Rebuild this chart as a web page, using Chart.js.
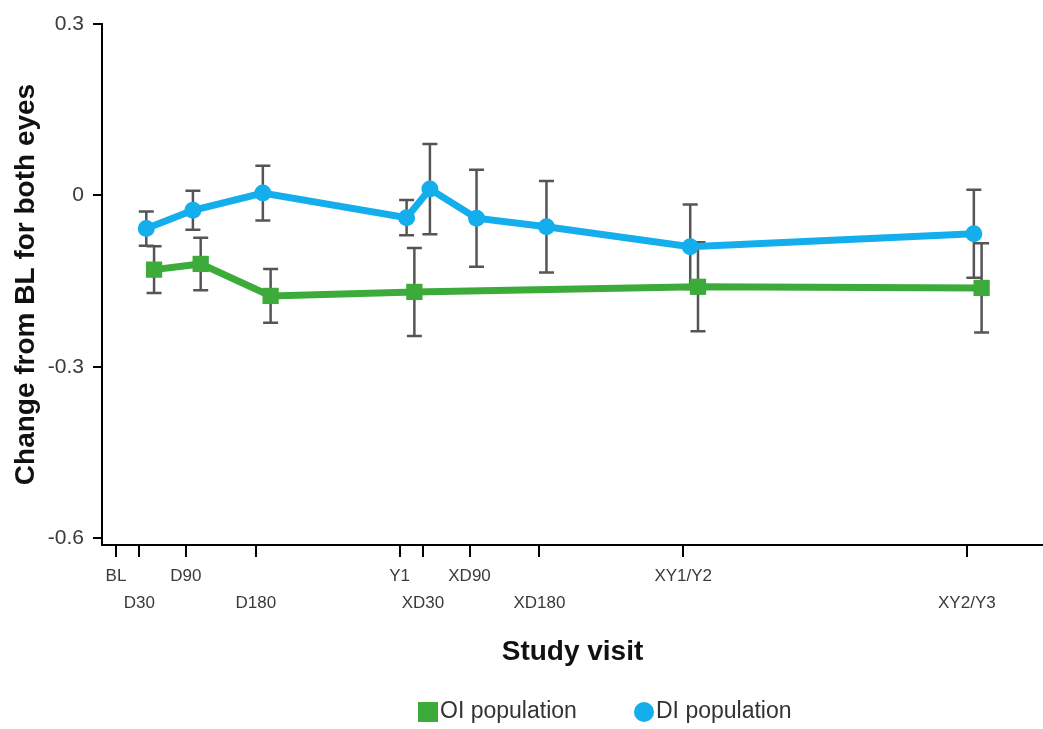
<!DOCTYPE html>
<html>
<head>
<meta charset="utf-8">
<script src="https://cdn.jsdelivr.net/npm/chart.js@4.4.1/dist/chart.umd.min.js"></script>
<style>
    html, body { margin: 0; padding: 0; background: #fff; }
    canvas { display: block; }
</style>
</head>
<body>
<canvas id="chartLine" width="1043" height="729"></canvas>
<script>
// x axis: study visits placed on a day scale
const visitLabels = ["BL", "D30", "D90", "D180", "Y1", "XD30", "XD90", "XD180", "XY1/Y2", "XY2/Y3"];
const visitDays = [0, 30, 90, 180, 365, 395, 455, 545, 730, 1095];
const yTicks = [-0.6, -0.3, 0, 0.3];

// OI population (green squares)
const oiVisits = ["D30", "D90", "D180", "Y1", "XY1/Y2", "XY2/Y3"];
const oiMeans = [-0.130, -0.120, -0.176, -0.169, -0.160, -0.162];
const oiErrors = [0.041, 0.046, 0.047, 0.077, 0.078, 0.078];

// DI population (blue circles)
const diVisits = ["D30", "D90", "D180", "Y1", "XD30", "XD90", "XD180", "XY1/Y2", "XY2/Y3"];
const diMeans = [-0.058, -0.026, 0.004, -0.039, 0.011, -0.040, -0.055, -0.090, -0.067];
const diErrors = [0.030, 0.034, 0.048, 0.031, 0.079, 0.085, 0.080, 0.074, 0.077];

const FONT = "'Liberation Sans', Arial, sans-serif";
Chart.defaults.font.family = FONT;

function toPoints(visits, means, errors, dodge) {
    return visits.map((v, i) => ({
        x: visitDays[visitLabels.indexOf(v)] + dodge,
        y: means[i],
        err: errors[i],
    }));
}

const errorBars = {
    id: "errorBars",
    beforeDatasetsDraw(chart) {
        const { ctx, scales: { x, y } } = chart;
        ctx.save();
        ctx.strokeStyle = "#555";
        ctx.lineWidth = 2.5;
        chart.data.datasets.forEach((ds) => {
            ds.data.forEach((p) => {
                const px = x.getPixelForValue(p.x);
                const top = y.getPixelForValue(p.y + p.err);
                const bottom = y.getPixelForValue(p.y - p.err);
                ctx.beginPath();
                ctx.moveTo(px, top);
                ctx.lineTo(px, bottom);
                ctx.moveTo(px - 7.5, top);
                ctx.lineTo(px + 7.5, top);
                ctx.moveTo(px - 7.5, bottom);
                ctx.lineTo(px + 7.5, bottom);
                ctx.stroke();
            });
        });
        ctx.restore();
    },
};

// legend drawn under the axis title
const bottomLegend = {
    id: "bottomLegend",
    afterDraw(chart) {
        const ctx = chart.ctx;
        const yMid = 712;
        const starts = [418, 634];
        ctx.save();
        ctx.font = "23px " + FONT;
        ctx.textBaseline = "middle";
        chart.data.datasets.forEach((ds, i) => {
            const x0 = starts[i];
            ctx.fillStyle = ds.backgroundColor;
            if (ds.pointStyle === "rect") {
                ctx.fillRect(x0, yMid - 10, 20, 20);
            } else {
                ctx.beginPath();
                ctx.arc(x0 + 10, yMid, 10, 0, Math.PI * 2);
                ctx.fill();
            }
            ctx.fillStyle = "#333";
            ctx.fillText(ds.label, x0 + 22, yMid);
        });
        ctx.restore();
    },
};

const configLine = {
    type: "line",
    data: {
        datasets: [
            {
                label: "OI population",
                data: toPoints(oiVisits, oiMeans, oiErrors, 19),
                borderColor: "#3CAB3A",
                backgroundColor: "#3CAB3A",
                borderWidth: 7,
                pointStyle: "rect",
                pointRadius: 11.5,
                pointBorderWidth: 0,
                tension: 0,
            },
            {
                label: "DI population",
                data: toPoints(diVisits, diMeans, diErrors, 9),
                borderColor: "#13AEEB",
                backgroundColor: "#13AEEB",
                borderWidth: 7,
                pointStyle: "circle",
                pointRadius: 8.5,
                pointBorderWidth: 0,
                tension: 0,
            },
        ],
    },
    options: {
        responsive: false,
        animation: false,
        devicePixelRatio: 1,
        layout: {
            autoPadding: false,
            padding: { top: 24, left: 0, right: 0, bottom: 0 },
        },
        plugins: {
            legend: { display: false },
            tooltip: { enabled: false },
        },
        scales: {
            x: {
                type: "linear",
                min: -18,
                max: 1193,
                afterFit(scale) {
                    scale.height = 184;
                    scale.paddingLeft = 0;
                    scale.paddingRight = 0;
                },
                afterBuildTicks(scale) {
                    scale.ticks = visitDays.map((v) => ({ value: v }));
                },
                ticks: {
                    autoSkip: false,
                    maxRotation: 0,
                    minRotation: 0,
                    padding: 6,
                    color: "#3a3a3a",
                    font: { size: 17, lineHeight: 1.6 },
                    callback(value, index) {
                        const label = visitLabels[visitDays.indexOf(value)];
                        return index % 2 ? ["", label] : label;
                    },
                },
                grid: {
                    drawOnChartArea: false,
                    drawTicks: true,
                    tickLength: 12,
                    color: "#000",
                    lineWidth: 2,
                },
                border: { display: true, color: "#000", width: 2 },
                title: {
                    display: true,
                    text: "Study visit",
                    color: "#111",
                    font: { size: 28, weight: "bold" },
                    padding: { top: 0, bottom: 60 },
                },
            },
            y: {
                min: -0.612,
                max: 0.3,
                afterFit(scale) { scale.width = 102; },
                afterBuildTicks(scale) {
                    scale.ticks = yTicks.map((v) => ({ value: v }));
                },
                ticks: {
                    padding: 9,
                    color: "#3a3a3a",
                    font: { size: 21 },
                    callback: (v) => String(Math.round(v * 10) / 10),
                },
                grid: {
                    drawOnChartArea: false,
                    drawTicks: true,
                    tickLength: 9,
                    color: "#000",
                    lineWidth: 2,
                },
                border: { display: true, color: "#000", width: 2 },
                title: {
                    display: true,
                    text: "Change from BL for both eyes",
                    color: "#111",
                    font: { size: 28, weight: "bold" },
                    padding: { top: 9, bottom: 0 },
                },
            },
        },
    },
    plugins: [errorBars, bottomLegend],
};

new Chart(document.getElementById("chartLine"), configLine);
</script>
</body>
</html>
